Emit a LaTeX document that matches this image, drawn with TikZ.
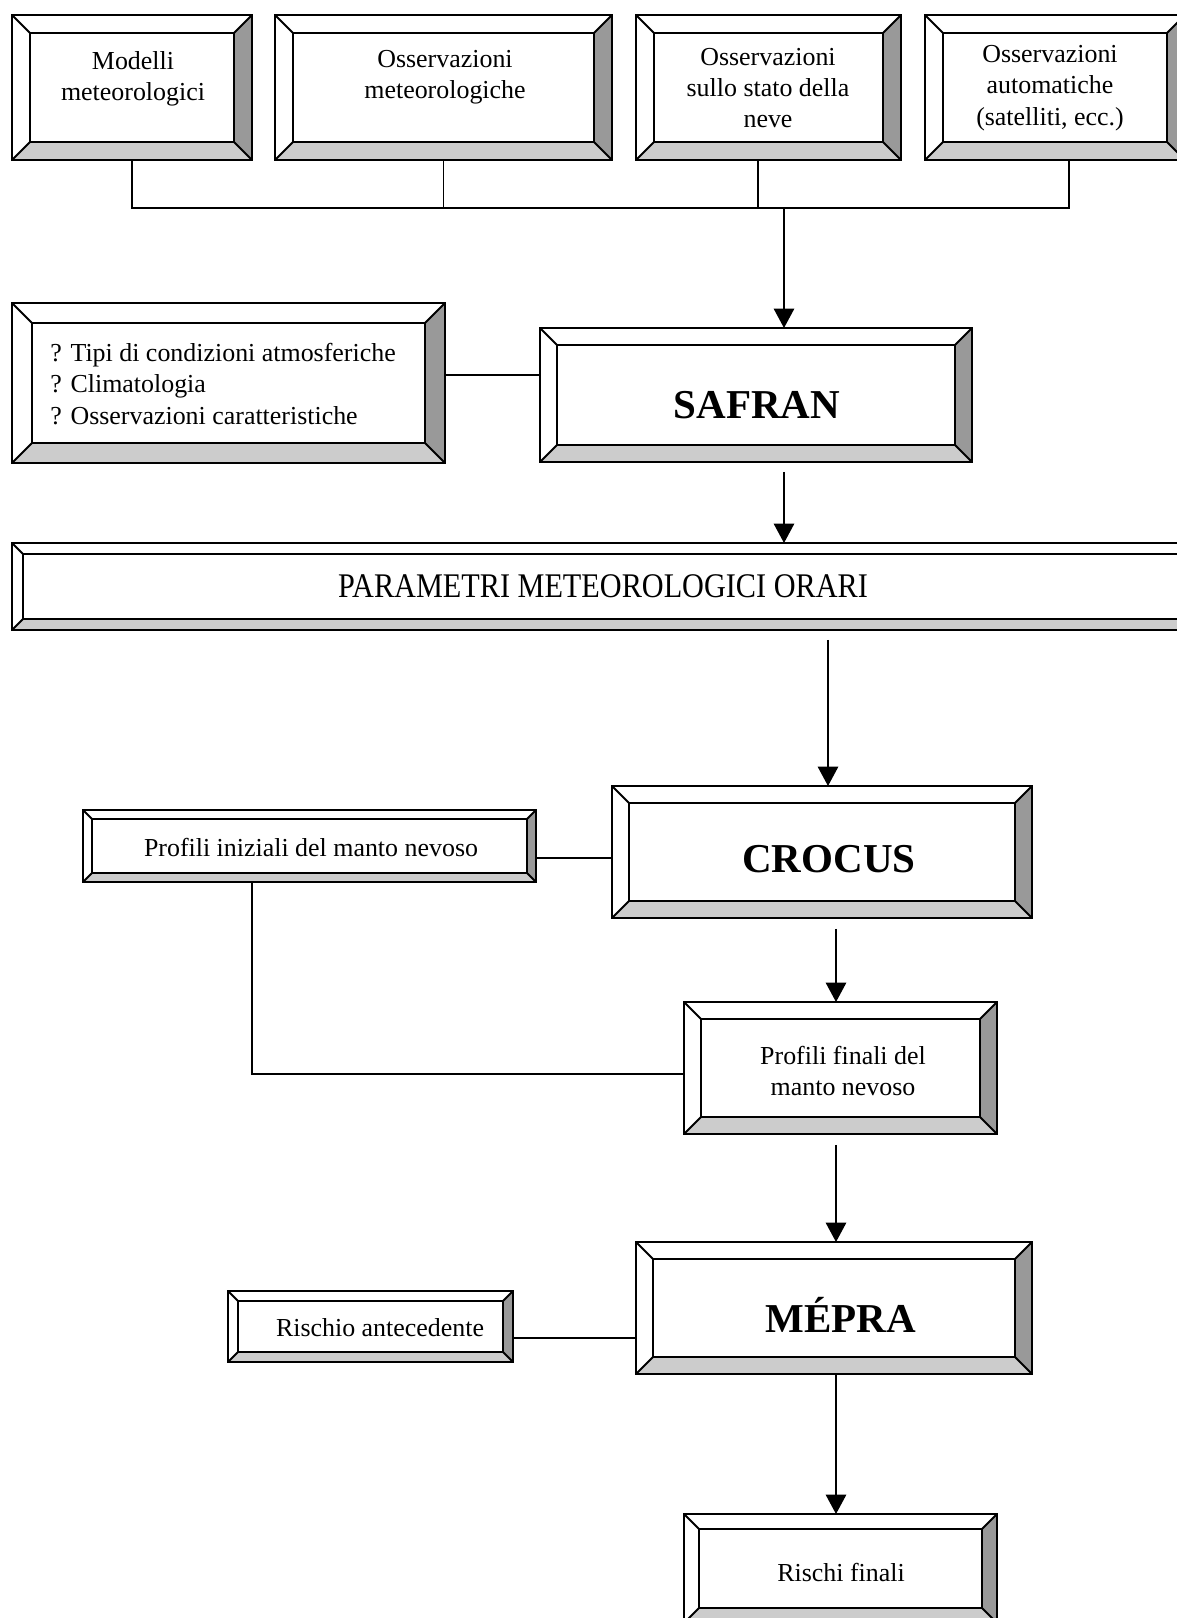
\documentclass[tikz,border=0pt]{standalone}
\usepackage{fontspec}
\setmainfont{Liberation Serif}
\usepackage{tikz}
\usetikzlibrary{calc}
\usetikzlibrary{fit}
\usetikzlibrary{arrows.meta}
\definecolor{bevdark}{HTML}{999999}
\definecolor{bevlight}{HTML}{CCCCCC}

\begin{document}
\begin{tikzpicture}[x=0.463pt, y=-0.463pt]
  \tikzset{bevel/.store in=\bev, bevel=18};
  \tikzset{bevelbox/.style={draw=black, line width=0.85pt, inner sep=0pt, outer sep=0pt, fill=white,
      path picture={
        \path (path picture bounding box.south west) coordinate (pa)
              (path picture bounding box.north east) coordinate (pb);
        \path ([shift={(\bev,-\bev)}]pa) coordinate (qa)
              ([shift={(-\bev,\bev)}]pb) coordinate (qb);
        \fill[bevdark] (pb) -- (pb |- pa) -- (qb |- qa) -- (qb) -- cycle;
        \fill[bevlight] (pa) -- (pb |- pa) -- (qb |- qa) -- (qa) -- cycle;
        \draw[line width=0.85pt] (qa) rectangle (qb);
        \draw[line width=0.85pt] (pa) -- (qa) (pb) -- (qb)
             (pa |- pb) -- (qa |- qb) (pb |- pa) -- (qb |- qa);
      }}};
  \tikzset{txt/.style={font=\fontsize{12}{14.5}\selectfont, align=center, inner sep=0pt}};
  \tikzset{bigtxt/.style={font=\fontsize{19}{22}\selectfont\bfseries, inner sep=0pt, anchor=base}};
  \tikzset{conn/.style={line width=0.7pt}};
  \tikzset{myarrow/.style={conn, -{Triangle[length=9pt, width=9.5pt]}}};

  \useasboundingbox (0,0) rectangle (1177,1618);
  \clip (0,0) rectangle (1177,1618);

  % sources
  \node[bevelbox, fit={(12,15) (252,160)}] (modelli) {};
  \node[bevelbox, fit={(275,15) (612,160)}] (meteo) {};
  \node[bevelbox, fit={(636,15) (901,160)}] (neve) {};
  \node[bevelbox, fit={(925,15) (1185,160)}] (auto) {};
  \node[txt] (modelli-t) at (133,79) {Modelli\\meteorologici};
  \node[txt] (meteo-t) at (445,77) {Osservazioni\\meteorologiche};
  \node[txt] (neve-t) at (768,88) {Osservazioni\\sullo stato della\\neve};
  \node[txt] (auto-t) at (1050,88) {Osservazioni\\automatiche\\(satelliti, ecc.)};

  % safran
  \node[bevelbox, bevel=20, fit={(12,303) (445,463)}] (info) {};
  \node[txt, align=left, anchor=west] (info-t) at (50,384)
    {? Tipi di condizioni atmosferiche\\? Climatologia\\? Osservazioni caratteristiche};
  \node[bevelbox, bevel=17, fit={(540,328) (972,462)}] (safran) {};
  \node[bigtxt] (safran-t) at (757,418) {SAFRAN};
  \node[bevelbox, bevel=11, fit={(12,543) (1195,630)}] (param) {};
  \node[txt, anchor=base] (param-t) at (603,597)
    {\fontsize{16}{18}\selectfont\scalebox{0.875}[1]{PARAMETRI METEOROLOGICI ORARI}};

  % crocus
  \node[bevelbox, bevel=9, fit={(83,810) (536,882)}] (iniz) {};
  \node[txt] (iniz-t) at (311,847) {Profili iniziali del manto nevoso};
  \node[bevelbox, bevel=17, fit={(612,786) (1032,918)}] (crocus) {};
  \node[bigtxt] (crocus-t) at (829,872) {CROCUS};
  \node[bevelbox, bevel=17, fit={(684,1002) (997,1134)}] (finali) {};
  \node[txt] (finali-t) at (843,1071) {Profili finali del\\manto nevoso};

  % mepra
  \node[bevelbox, bevel=10, fit={(228,1291) (513,1362)}] (rischio) {};
  \node[txt] (rischio-t) at (380,1328) {Rischio antecedente};
  \node[bevelbox, bevel=17, fit={(636,1242) (1032,1374)}] (mepra) {};
  \node[bigtxt] (mepra-t) at (841,1332) {MÉPRA};
  \node[bevelbox, bevel=15, fit={(684,1514) (997,1623)}] (rischi) {};
  \node[txt] (rischi-t) at (841,1572) {Rischi finali};

  \coordinate (busR) at (1069,208);
  \coordinate (b3) at (758,208);
  \coordinate (join) at (784,208);
  \coordinate (l1) at (0,375);
  \coordinate (l2) at (0,858);
  \coordinate (l3) at (252,1074);
  \coordinate (l4) at (0,1338);
  \coordinate (c2) at (828,0);
  \coordinate (c3) at (836,0);

  \draw[conn] (modelli.south) |- (busR) -- (busR |- auto.south);
  \draw[conn] (meteo.south) -- (meteo.south |- busR);
  \draw[conn] (b3 |- neve.south) -- (b3);
  \draw[myarrow] (join) -- (join |- safran.north);
  \draw[conn] (info.east |- l1) -- (safran.west |- l1);
  \draw[myarrow, shorten <=4.6pt] (join |- safran.south) -- (join |- param.north);
  \draw[myarrow, shorten <=4.6pt] (c2 |- param.south) -- (c2 |- crocus.north);
  \draw[conn] (iniz.east |- l2) -- (crocus.west |- l2);
  \draw[conn] (l3 |- iniz.south) -- (l3) -- (finali.west |- l3);
  \draw[myarrow, shorten <=5pt] (c3 |- crocus.south) -- (c3 |- finali.north);
  \draw[myarrow, shorten <=5pt] (c3 |- finali.south) -- (c3 |- mepra.north);
  \draw[conn] (rischio.east |- l4) -- (mepra.west |- l4);
  \draw[myarrow] (c3 |- mepra.south) -- (c3 |- rischi.north);
\end{tikzpicture}
\end{document}
